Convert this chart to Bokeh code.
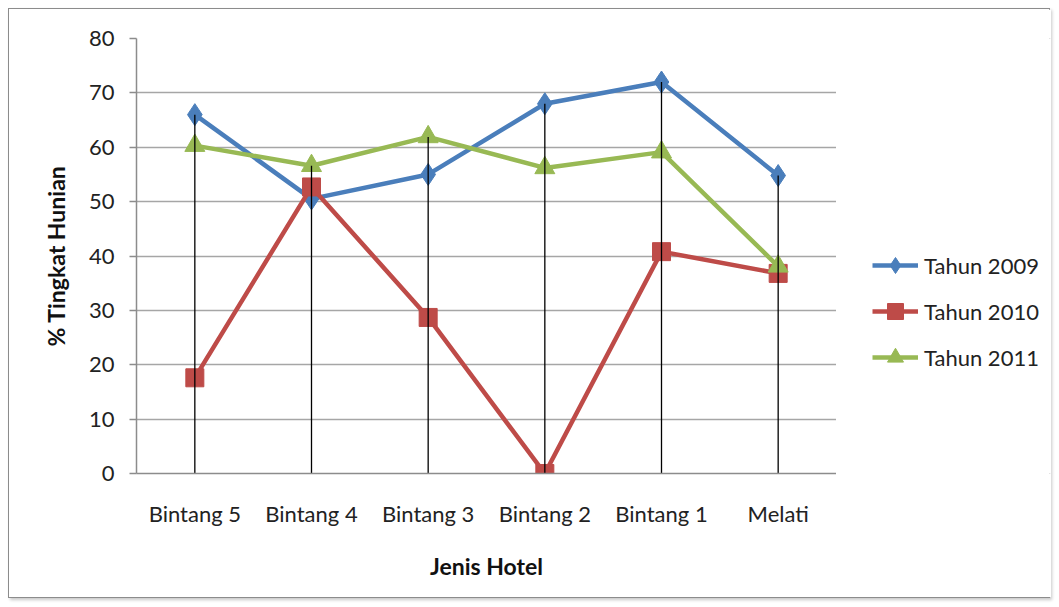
from bokeh.plotting import figure
from bokeh.models import Range1d, Legend, LegendItem
from bokeh.layouts import row
from bokeh.embed import file_html
from bokeh.resources import INLINE
import numpy as np

categories = ["Bintang 5", "Bintang 4", "Bintang 3", "Bintang 2", "Bintang 1", "Melati"]
tahun_2009 = [66.0, 50.5, 55.0, 68.0, 72.0, 54.8]
tahun_2010 = [17.6, 52.7, 28.7, 0.0, 40.8, 36.8]
tahun_2011 = [60.3, 56.6, 61.9, 56.2, 59.1, 38.1]
y_ticks = [0, 10, 20, 30, 40, 50, 60, 70, 80]

FONT = "Lato"

p = figure(x_range=categories, y_range=Range1d(0, 80), width=827, height=590,
           output_backend="svg", toolbar_location=None,
           min_border_left=127, min_border_right=0, min_border_top=29, min_border_bottom=124)
p.outline_line_color = None
p.background_fill_color = "white"
p.border_fill_color = "white"

p.xgrid.grid_line_color = None
p.ygrid.grid_line_color = "#a6a6a6"
p.ygrid.grid_line_width = 1.5
p.yaxis.ticker = y_ticks

for ax in (p.xaxis[0], p.yaxis[0]):
    ax.axis_line_color = "#8c8c8c"
    ax.axis_line_width = 1.5
    ax.minor_tick_line_color = None
    ax.major_label_text_font = FONT
    ax.major_label_text_font_size = "22px"
    ax.major_label_text_color = "#222222"
    ax.axis_label_text_font = FONT
    ax.axis_label_text_font_size = "23px"
    ax.axis_label_text_font_style = "bold"
    ax.axis_label_text_color = "#111111"

p.yaxis.major_tick_line_color = "#8c8c8c"
p.yaxis.major_tick_line_width = 1.5
p.yaxis.major_tick_in = 0
p.yaxis.major_tick_out = 7
p.yaxis.major_label_standoff = 15
p.yaxis.axis_label = "% Tingkat Hunian"
p.yaxis.axis_label_standoff = 16

p.xaxis.major_tick_line_color = None
p.xaxis.major_label_standoff = 20
p.xaxis.axis_label = "Jenis Hotel"
p.xaxis.axis_label_standoff = 22

series = [
    ("Tahun 2009", tahun_2009, "#4a7ebb", "diamond", 22),
    ("Tahun 2010", tahun_2010, "#be4b48", "square", 18),
    ("Tahun 2011", tahun_2011, "#98b954", "triangle", 20),
]

for name, vals, color, marker, size in series:
    p.line(categories, vals, line_color=color, line_width=4.5)
    p.scatter(categories, vals, marker=marker, size=size, fill_color=color, line_color=color)

top = np.maximum(np.maximum(tahun_2009, tahun_2010), tahun_2011)
p.segment(x0=categories, y0=[0] * len(categories), x1=categories, y1=top,
          line_color="black", line_width=1.3)

# legend panel (its renderers lie outside its visible ranges; only the legend shows)
q = figure(width=215, height=590, x_range=Range1d(100, 101), y_range=Range1d(-2, -1),
           output_backend="svg", toolbar_location=None,
           min_border_left=0, min_border_right=0, min_border_top=0, min_border_bottom=0)
q.axis.visible = False
q.grid.grid_line_color = None
q.outline_line_color = None
q.background_fill_color = "white"
q.border_fill_color = "white"

items = []
idx = list(range(len(categories)))
for name, vals, color, marker, size in series:
    l = q.line(idx, vals, line_color=color, line_width=4.5)
    s = q.scatter(idx, vals, marker=marker, size=size, fill_color=color, line_color=color)
    items.append(LegendItem(label=name, renderers=[l, s]))

legend = Legend(items=items, location=(36, 96), orientation="vertical",
                padding=0, margin=0, spacing=6, glyph_width=46, glyph_height=40,
                label_height=24, label_standoff=6, border_line_color=None,
                background_fill_alpha=0,
                label_text_font=FONT, label_text_font_size="22px", label_text_color="#222222")
q.add_layout(legend, "center")

layout = row(p, q)
layout.styles = {"margin": "8px 0 0 8px", "border": "1px solid #8c8c8c",
                 "box-shadow": "2px 2px 3px #c8c8c8", "width": "1042px", "height": "590px"}

open("out.html", "w").write(file_html(layout, INLINE))
